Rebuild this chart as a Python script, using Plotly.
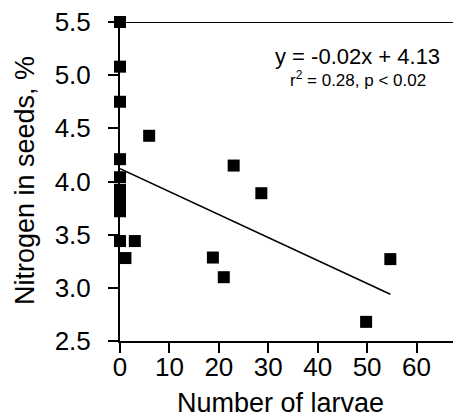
import plotly.graph_objects as go

# Data
larvae = [0, 0, 0, 0, 0, 0, 0, 0, 0, 0, 1.1, 3.0, 5.9, 18.8, 21.0, 23.0, 28.6, 49.8, 54.7]
nitrogen = [5.50, 5.08, 4.75, 4.21, 4.04, 3.92, 3.82, 3.76, 3.72, 3.44, 3.28, 3.44, 4.43, 3.285, 3.10, 4.15, 3.89, 2.68, 3.27]

fit_x = [0, 54.7]
fit_y = [4.12, 2.94]

x_ticks = [0, 10, 20, 30, 40, 50, 60]
y_ticks = [2.5, 3.0, 3.5, 4.0, 4.5, 5.0, 5.5]
y_tick_text = ["2.5", "3.0", "3.5", "4.0", "4.5", "5.0", "5.5"]

FONT = "Liberation Sans, Arial, Helvetica, sans-serif"

# page body has an 8px margin; plot area should sit at x 120..461, y 22..341
OFF = 8
L, T = 120 - OFF, 22 - OFF
W, H = 461 - OFF, 410
PW, PH = 341, 319
B = H - T - PH
def px(xp):
    return (xp - 120) / PW
def py(yp):
    return (341 - yp) / PH

fig = go.Figure()
fig.add_trace(go.Scatter(x=fit_x, y=fit_y, mode="lines",
                         line=dict(color="black", width=1.6), cliponaxis=False,
                         showlegend=False, hoverinfo="skip"))
fig.add_trace(go.Scatter(x=larvae, y=nitrogen, mode="markers",
                         marker=dict(symbol="square", size=12, color="black",
                                     line=dict(width=0)),
                         cliponaxis=False, showlegend=False))

fig.add_shape(type="line", xref="paper", yref="y", x0=0, x1=1, y0=5.5, y1=5.5,
              line=dict(color="black", width=2))

fig.add_annotation(text="y = -0.02x + 4.13", xref="paper", yref="paper",
                   x=px(357), y=py(56), showarrow=False,
                   font=dict(size=22, color="black", family=FONT),
                   xanchor="center", yanchor="middle")
fig.add_annotation(text="r<sup>2</sup> = 0.28, p < 0.02", xref="paper", yref="paper",
                   x=px(358), y=py(79), showarrow=False,
                   font=dict(size=17, color="black", family=FONT),
                   xanchor="center", yanchor="middle")
fig.add_annotation(text="Number of larvae", xref="paper", yref="paper",
                   x=px(280), y=py(403), showarrow=False,
                   font=dict(size=27, color="black", family=FONT),
                   xanchor="center", yanchor="middle")
fig.add_annotation(text="Nitrogen in seeds, %", xref="paper", yref="paper",
                   x=px(25), y=py(181), showarrow=False, textangle=-90,
                   font=dict(size=27, color="black", family=FONT),
                   xanchor="center", yanchor="middle", borderpad=0)

fig.update_layout(
    width=W, height=H,
    margin=dict(l=L, r=0, t=T, b=B),
    paper_bgcolor="white", plot_bgcolor="white",
    font=dict(family=FONT, size=26, color="black"),
    xaxis=dict(range=[0, 69], tickvals=x_ticks, ticks="outside", ticklen=10,
               tickwidth=1.5, tickcolor="black", showline=True, linecolor="black",
               linewidth=2, showgrid=False, zeroline=False,
               tickfont=dict(size=26), ticklabelstandoff=-8,
               ticklabeloverflow="allow"),
    yaxis=dict(range=[2.5, 5.5], tickvals=y_ticks, ticktext=y_tick_text,
               ticks="outside", ticklen=10, tickwidth=1.5, tickcolor="black",
               showline=True, linecolor="black", linewidth=2, showgrid=False,
               zeroline=False, tickfont=dict(size=26), ticklabelstandoff=12,
               ticklabeloverflow="allow"),
)

fig.write_html("out.html")
